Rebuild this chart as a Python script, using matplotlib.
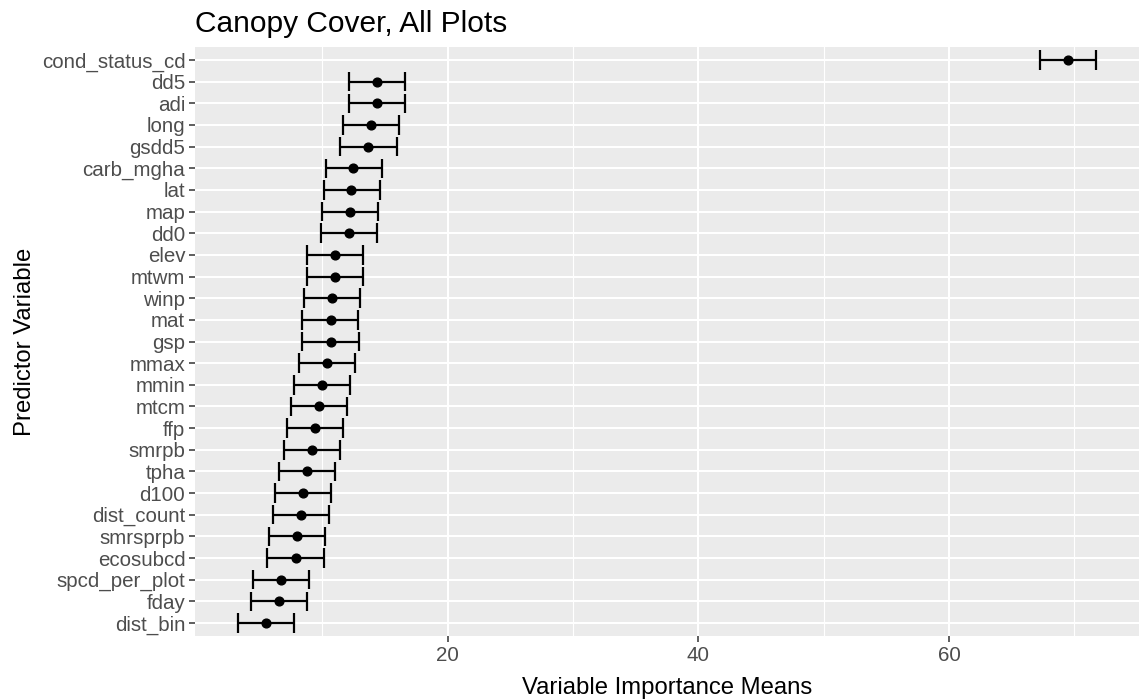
import numpy as np
import matplotlib
matplotlib.use("Agg")
import matplotlib.pyplot as plt

plt.rcParams['font.family'] = ['Liberation Sans', 'DejaVu Sans']

# 数据：从上到下
variables = ['cond_status_cd', 'dd5', 'adi', 'long', 'gsdd5', 'carb_mgha', 'lat', 'map',
             'dd0', 'elev', 'mtwm', 'winp', 'mat', 'gsp', 'mmax', 'mmin', 'mtcm', 'ffp',
             'smrpb', 'tpha', 'd100', 'dist_count', 'smrsprpb', 'ecosubcd',
             'spcd_per_plot', 'fday', 'dist_bin']
means = [69.47, 14.36, 14.36, 13.90, 13.64, 12.44, 12.31, 12.20, 12.10, 11.01, 11.01,
         10.74, 10.64, 10.64, 10.37, 9.97, 9.71, 9.42, 9.18, 8.78, 8.41, 8.27, 7.95,
         7.85, 6.68, 6.52, 5.48]
lower = [67.27, 12.13, 12.13, 11.67, 11.43, 10.24, 10.08, 9.97, 9.87, 8.80, 8.80,
         8.51, 8.38, 8.40, 8.11, 7.74, 7.45, 7.19, 6.95, 6.55, 6.18, 6.02, 5.72,
         5.59, 4.42, 4.29, 3.25]
upper = [71.73, 16.56, 16.56, 16.14, 15.92, 14.73, 14.57, 14.46, 14.33, 13.24, 13.24,
         12.97, 12.87, 12.89, 12.60, 12.20, 11.94, 11.67, 11.41, 11.01, 10.64, 10.48,
         10.21, 10.08, 8.91, 8.78, 7.71]
x_major = [20, 40, 60]
x_minor = [10, 30, 50, 70]

fig = plt.figure(figsize=(11.39, 7), dpi=100)
ax = fig.add_axes([195 / 1139, 1 - 636 / 700, 944 / 1139, 589 / 700])

n = len(variables)
ypos = np.arange(n)[::-1]  # 第一个在最上面

ax.set_facecolor('#EBEBEB')
for s in ax.spines.values():
    s.set_visible(False)

# 误差线
ax.hlines(ypos, lower, upper, color='black', lw=1.6, zorder=3)
ax.vlines(lower, ypos - 0.45, ypos + 0.45, color='black', lw=1.6, zorder=3)
ax.vlines(upper, ypos - 0.45, ypos + 0.45, color='black', lw=1.6, zorder=3)
ax.plot(means, ypos, 'o', color='black', markersize=6.3, zorder=4)

rng = max(upper) - min(lower)
ax.set_xlim(min(lower) - 0.05 * rng, max(upper) + 0.05 * rng)
ax.set_ylim(-0.6, n - 1 + 0.6)

ax.set_xticks(x_major)
ax.set_xticks(x_minor, minor=True)
ax.set_yticks(ypos)
ax.set_yticklabels(variables)

ax.grid(which='major', color='white', lw=1.5, zorder=0)
ax.grid(which='minor', axis='x', color='white', lw=0.8, zorder=0)
ax.set_axisbelow(True)

ax.tick_params(axis='both', which='major', colors='#333333', labelcolor='#4D4D4D',
               labelsize=14.8, length=4, width=1.1, pad=3)
ax.tick_params(axis='x', which='minor', length=0)

ax.set_xlabel('Variable Importance Means', fontsize=17.2, labelpad=9)
ax.set_ylabel('Predictor Variable', fontsize=17.2, labelpad=4)
ax.set_title('Canopy Cover, All Plots', fontsize=21.5, loc='left', pad=11)

fig.savefig('out.png', dpi=100)
